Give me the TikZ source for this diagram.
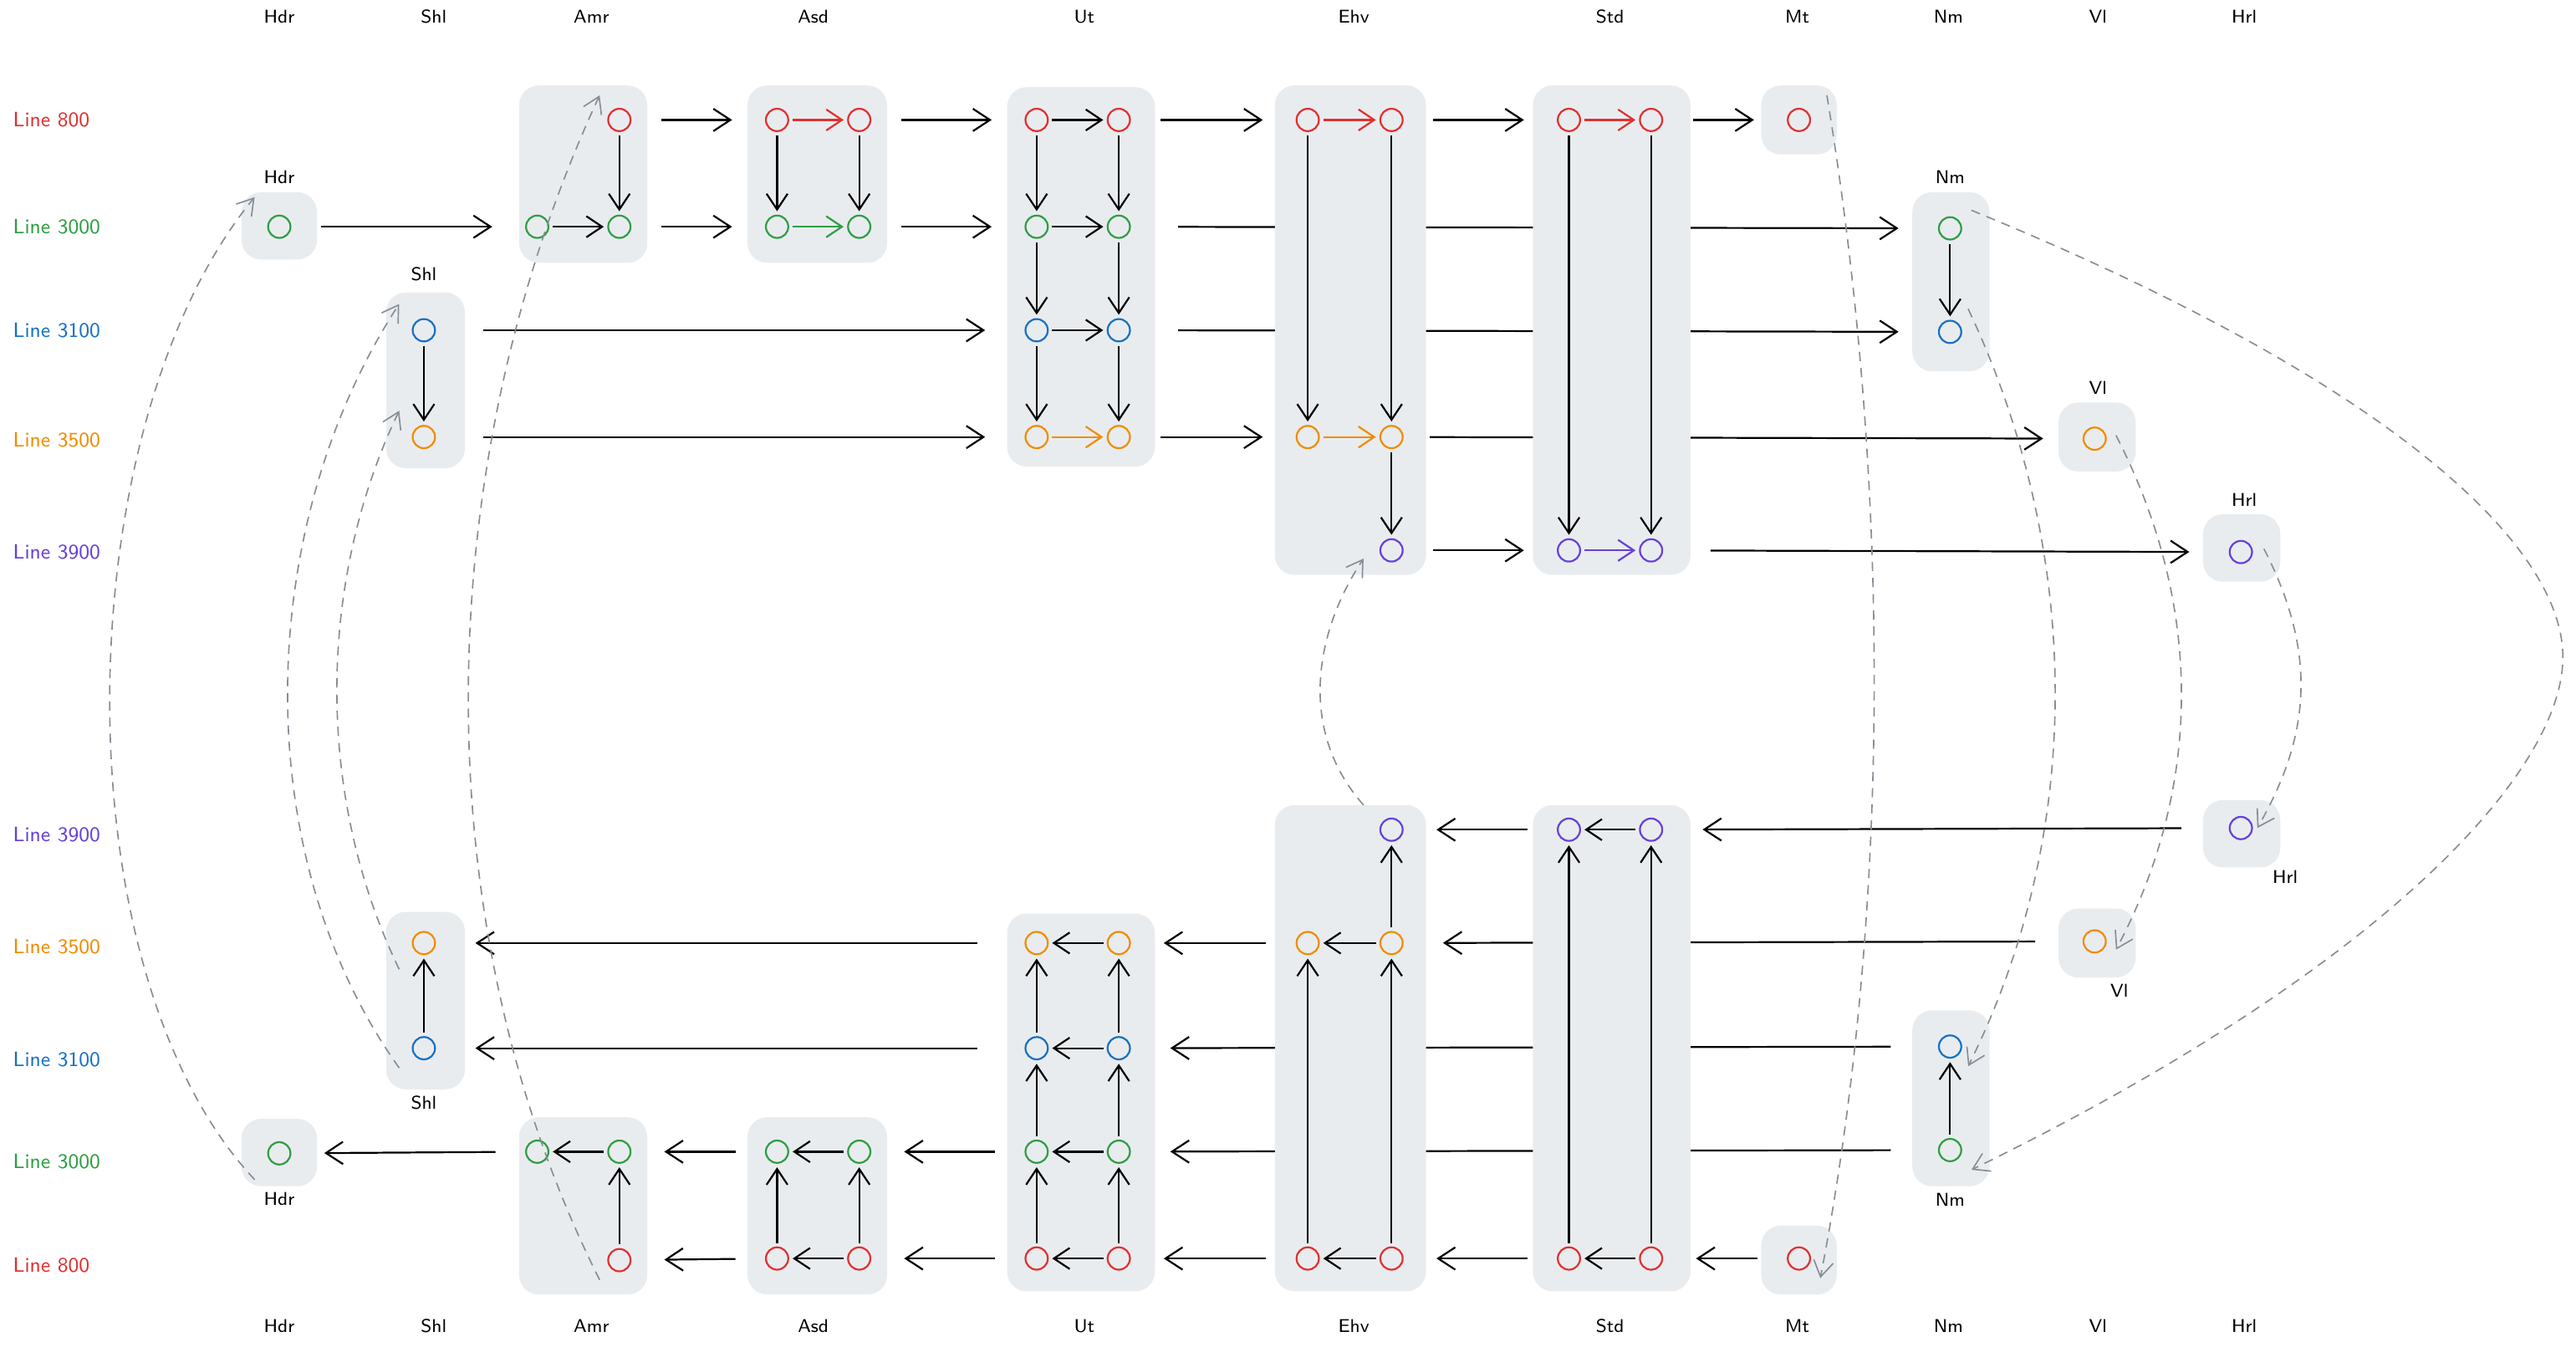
\documentclass[tikz,border=0pt]{standalone}
\usetikzlibrary{arrows.meta}
\definecolor{cred}{HTML}{E03131}
\definecolor{cgreen}{HTML}{2F9E44}
\definecolor{cblue}{HTML}{1971C2}
\definecolor{corange}{HTML}{F08C00}
\definecolor{cpurple}{HTML}{6741D9}
\definecolor{boxgray}{HTML}{E9ECEF}
\definecolor{dashgray}{HTML}{868E96}
\pgfdeclarelayer{background}
\pgfsetlayers{background,main}

\tikzset{
  pt/.style={circle, draw=#1, thick, minimum size=0.34cm, inner sep=0pt},
  grp/.style={fill=boxgray, rounded corners=0.3cm},
  inner/.style={-{Straight Barb[length=2.4mm,width=3.2mm]}, thick, shorten <=1.5pt, shorten >=1.5pt},
  link/.style={-{Straight Barb[length=2.6mm,width=3.4mm]}, thick, shorten <=0.45cm, shorten >=0.5cm},
  long/.style={-{Straight Barb[length=2.6mm,width=3.4mm]}, thick, shorten <=0.72cm, shorten >=0.6cm},
  jump/.style={-{Straight Barb[length=2.4mm,width=3mm]}, dashgray, semithick, dash pattern=on 4pt off 3pt},
  col/.style={font=\sffamily\footnotesize},
  row/.style={font=\sffamily\small, anchor=west}
}

\begin{document}
\begin{tikzpicture}[x=0.025cm, y=-0.025cm]
\useasboundingbox (0,0) rectangle (1568,819.4);

% column headers
\foreach \x/\t in {170/Hdr, 264/Shl, 360/Amr, 495/Asd, 660/Ut, 824/Ehv, 980/Std, 1094/Mt, 1186/Nm, 1277/Vl, 1366/Hrl} {
  \node[col] (head-t-\t) at (\x,10) {\t};
  \node[col] (head-b-\t) at (\x,807) {\t};
}

% line labels
\foreach \y/\n/\c [count=\i] in {73/800/cred, 138/3000/cgreen, 201/3100/cblue, 268/3500/corange, 336/3900/cpurple,
                      508/3900/cpurple, 576/3500/corange, 645/3100/cblue, 707/3000/cgreen, 770/800/cred} {
  \node[row, text=\c] (line-\i) at (3,\y) {Line \n};
}

% ---- upper half
\node[pt=cgreen] (hdr-t-3000) at (170,138) {};
\node[pt=cblue] (shl-t-3100) at (258,201) {};
\node[pt=corange] (shl-t-3500) at (258,266) {};
\node[pt=cred] (amr-t-800) at (377,73) {};
\node[pt=cgreen] (amr-t-3000-l) at (327,138) {};
\node[pt=cgreen] (amr-t-3000-r) at (377,138) {};
\node[pt=cred] (asd-t-800-l) at (473,73) {};
\node[pt=cred] (asd-t-800-r) at (523,73) {};
\node[pt=cgreen] (asd-t-3000-l) at (473,138) {};
\node[pt=cgreen] (asd-t-3000-r) at (523,138) {};
\foreach \y/\n/\c in {73/800/cred, 138/3000/cgreen, 201/3100/cblue, 266/3500/corange} {
  \node[pt=\c] (ut-t-\n-l) at (631,\y) {};
  \node[pt=\c] (ut-t-\n-r) at (681,\y) {};
}
\node[pt=cred] (ehv-t-800-l) at (796,73) {};
\node[pt=cred] (ehv-t-800-r) at (847,73) {};
\node[pt=corange] (ehv-t-3500-l) at (796,266) {};
\node[pt=corange] (ehv-t-3500-r) at (847,266) {};
\node[pt=cpurple] (ehv-t-3900) at (847,335) {};
\node[pt=cred] (std-t-800-l) at (955,73) {};
\node[pt=cred] (std-t-800-r) at (1005,73) {};
\node[pt=cpurple] (std-t-3900-l) at (955,335) {};
\node[pt=cpurple] (std-t-3900-r) at (1005,335) {};
\node[pt=cred] (mt-t-800) at (1095,73) {};
\node[pt=cgreen] (nm-t-3000) at (1187,139) {};
\node[pt=cblue] (nm-t-3100) at (1187,202) {};
\node[pt=corange] (vl-t-3500) at (1275,267) {};
\node[pt=cpurple] (hrl-t-3900) at (1364,336) {};

\node[col] (hdr-t-label) at (170,108) {Hdr};
\node[col] (shl-t-label) at (258,167) {Shl};
\node[col] (nm-t-label) at (1187,108) {Nm};
\node[col] (vl-t-label) at (1277,236) {Vl};
\node[col] (hrl-t-label) at (1366,304) {Hrl};

% ---- lower half
\node[pt=cgreen] (hdr-b-3000) at (170,702) {};
\node[pt=corange] (shl-b-3500) at (258,574) {};
\node[pt=cblue] (shl-b-3100) at (258,638) {};
\node[pt=cgreen] (amr-b-3000-l) at (327,701) {};
\node[pt=cgreen] (amr-b-3000-r) at (377,701) {};
\node[pt=cred] (amr-b-800) at (377,767) {};
\node[pt=cgreen] (asd-b-3000-l) at (473,701) {};
\node[pt=cgreen] (asd-b-3000-r) at (523,701) {};
\node[pt=cred] (asd-b-800-l) at (473,766) {};
\node[pt=cred] (asd-b-800-r) at (523,766) {};
\foreach \y/\n/\c in {574/3500/corange, 638/3100/cblue, 701/3000/cgreen, 766/800/cred} {
  \node[pt=\c] (ut-b-\n-l) at (631,\y) {};
  \node[pt=\c] (ut-b-\n-r) at (681,\y) {};
}
\node[pt=cpurple] (ehv-b-3900) at (847,505) {};
\node[pt=corange] (ehv-b-3500-l) at (796,574) {};
\node[pt=corange] (ehv-b-3500-r) at (847,574) {};
\node[pt=cred] (ehv-b-800-l) at (796,766) {};
\node[pt=cred] (ehv-b-800-r) at (847,766) {};
\node[pt=cpurple] (std-b-3900-l) at (955,505) {};
\node[pt=cpurple] (std-b-3900-r) at (1005,505) {};
\node[pt=cred] (std-b-800-l) at (955,766) {};
\node[pt=cred] (std-b-800-r) at (1005,766) {};
\node[pt=cred] (mt-b-800) at (1095,766) {};
\node[pt=cblue] (nm-b-3100) at (1187,637) {};
\node[pt=cgreen] (nm-b-3000) at (1187,700) {};
\node[pt=corange] (vl-b-3500) at (1275,573) {};
\node[pt=cpurple] (hrl-b-3900) at (1364,504) {};

\node[col] (hdr-b-label) at (170,730) {Hdr};
\node[col] (shl-b-label) at (258,671) {Shl};
\node[col] (nm-b-label) at (1187,730) {Nm};
\node[col] (vl-b-label) at (1290,603) {Vl};
\node[col] (hrl-b-label) at (1391,534) {Hrl};

\begin{pgfonlayer}{background}
  % lines that pass behind the groups
  \draw[long] (ut-t-3000-r) -- (nm-t-3000);
  \draw[long] (shl-t-3100) -- (ut-t-3100-l);
  \draw[long] (ut-t-3100-r) -- (nm-t-3100);
  \draw[long] (shl-t-3500) -- (ut-t-3500-l);
  \draw[long, shorten <=0.4cm] (ehv-t-3500-r) -- (vl-t-3500);
  \draw[long] (std-t-3900-r) -- (hrl-t-3900);
  \draw[long] (nm-b-3000) -- (ut-b-3000-r);
  \draw[long] (nm-b-3100) -- (ut-b-3100-r);
  \draw[long] (ut-b-3100-l) -- (shl-b-3100);
  \draw[long] (vl-b-3500) -- (ehv-b-3500-r);
  \draw[long] (ut-b-3500-l) -- (shl-b-3500);
  \draw[long] (hrl-b-3900) -- (std-b-3900-r);

  % groups
  \foreach \xa/\ya/\xb/\yb in {147/117/193/158, 235/178/283/285, 316/52/394/160, 455/52/540/160,
      613/53/703/284, 776/52/868/350, 933/52/1029/350, 1072/52/1118/94, 1164/117/1211/226,
      1253/245/1300/287, 1341/313/1388/354,
      147/681/193/722, 235/555/283/663, 316/680/394/788, 455/680/540/788, 613/556/703/786,
      776/490/868/786, 933/490/1029/786, 1072/746/1118/788, 1164/615/1211/722,
      1253/553/1300/595, 1341/487/1388/528}
    \fill[grp] (\xa,\ya) rectangle (\xb,\yb);
\end{pgfonlayer}

% upper links
\draw[link] (amr-t-800) -- (asd-t-800-l);
\draw[link] (asd-t-800-r) -- (ut-t-800-l);
\draw[link] (ut-t-800-r) -- (ehv-t-800-l);
\draw[link] (ehv-t-800-r) -- (std-t-800-l);
\draw[link] (std-t-800-r) -- (mt-t-800);
\draw[link] (hdr-t-3000) -- (amr-t-3000-l);
\draw[link] (amr-t-3000-r) -- (asd-t-3000-l);
\draw[link] (asd-t-3000-r) -- (ut-t-3000-l);
\draw[link] (ut-t-3500-r) -- (ehv-t-3500-l);
\draw[link] (ehv-t-3900) -- (std-t-3900-l);

% upper inner arrows
\draw[inner] (shl-t-3100) -- (shl-t-3500);
\draw[inner] (amr-t-800) -- (amr-t-3000-r);
\draw[inner] (amr-t-3000-l) -- (amr-t-3000-r);
\draw[inner, cred] (asd-t-800-l) -- (asd-t-800-r);
\draw[inner] (asd-t-800-l) -- (asd-t-3000-l);
\draw[inner] (asd-t-800-r) -- (asd-t-3000-r);
\draw[inner, cgreen] (asd-t-3000-l) -- (asd-t-3000-r);
\foreach \n in {800, 3000, 3100} \draw[inner] (ut-t-\n-l) -- (ut-t-\n-r);
\draw[inner, corange] (ut-t-3500-l) -- (ut-t-3500-r);
\foreach \a/\b in {800/3000, 3000/3100, 3100/3500} {
  \draw[inner] (ut-t-\a-l) -- (ut-t-\b-l);
  \draw[inner] (ut-t-\a-r) -- (ut-t-\b-r);
}
\draw[inner, cred] (ehv-t-800-l) -- (ehv-t-800-r);
\draw[inner] (ehv-t-800-l) -- (ehv-t-3500-l);
\draw[inner] (ehv-t-800-r) -- (ehv-t-3500-r);
\draw[inner, corange] (ehv-t-3500-l) -- (ehv-t-3500-r);
\draw[inner] (ehv-t-3500-r) -- (ehv-t-3900);
\draw[inner, cred] (std-t-800-l) -- (std-t-800-r);
\draw[inner] (std-t-800-l) -- (std-t-3900-l);
\draw[inner] (std-t-800-r) -- (std-t-3900-r);
\draw[inner, cpurple] (std-t-3900-l) -- (std-t-3900-r);
\draw[inner] (nm-t-3000) -- (nm-t-3100);

% lower links
\draw[link] (mt-b-800) -- (std-b-800-r);
\draw[link] (std-b-800-l) -- (ehv-b-800-r);
\draw[link] (ehv-b-800-l) -- (ut-b-800-r);
\draw[link] (ut-b-800-l) -- (asd-b-800-r);
\draw[link] (asd-b-800-l) -- (amr-b-800);
\draw[link] (ut-b-3000-l) -- (asd-b-3000-r);
\draw[link] (asd-b-3000-l) -- (amr-b-3000-r);
\draw[link] (amr-b-3000-l) -- (hdr-b-3000);
\draw[link] (ehv-b-3500-l) -- (ut-b-3500-r);
\draw[link] (std-b-3900-l) -- (ehv-b-3900);

% lower inner arrows
\draw[inner] (shl-b-3100) -- (shl-b-3500);
\draw[inner] (amr-b-800) -- (amr-b-3000-r);
\draw[inner] (amr-b-3000-r) -- (amr-b-3000-l);
\draw[inner] (asd-b-800-r) -- (asd-b-800-l);
\draw[inner] (asd-b-800-l) -- (asd-b-3000-l);
\draw[inner] (asd-b-800-r) -- (asd-b-3000-r);
\draw[inner] (asd-b-3000-r) -- (asd-b-3000-l);
\foreach \n in {800, 3000, 3100, 3500} \draw[inner] (ut-b-\n-r) -- (ut-b-\n-l);
\foreach \a/\b in {800/3000, 3000/3100, 3100/3500} {
  \draw[inner] (ut-b-\a-l) -- (ut-b-\b-l);
  \draw[inner] (ut-b-\a-r) -- (ut-b-\b-r);
}
\draw[inner] (ehv-b-800-r) -- (ehv-b-800-l);
\draw[inner] (ehv-b-800-l) -- (ehv-b-3500-l);
\draw[inner] (ehv-b-800-r) -- (ehv-b-3500-r);
\draw[inner] (ehv-b-3500-r) -- (ehv-b-3500-l);
\draw[inner] (ehv-b-3500-r) -- (ehv-b-3900);
\draw[inner] (std-b-800-r) -- (std-b-800-l);
\draw[inner] (std-b-800-l) -- (std-b-3900-l);
\draw[inner] (std-b-800-r) -- (std-b-3900-r);
\draw[inner] (std-b-3900-r) -- (std-b-3900-l);
\draw[inner] (nm-b-3000) -- (nm-b-3100);

% dashed jumps between the halves
\draw[jump] ([shift={(-15,16)}]hdr-b-3000.center) .. controls (35,590) and (40,260) .. ([shift={(-15,-18)}]hdr-t-3000.center);
\draw[jump] ([shift={(-15,12)}]shl-b-3100.center) .. controls (150,520) and (155,320) .. ([shift={(-15,-16)}]shl-t-3100.center);
\draw[jump] ([shift={(-15,16)}]shl-b-3500.center) .. controls (190,480) and (195,350) .. ([shift={(-15,-16)}]shl-t-3500.center);
\draw[jump] ([shift={(-12,12)}]amr-b-800.center) .. controls (255,560) and (262,280) .. ([shift={(-12,-15)}]amr-t-800.center);
\draw[jump] ([shift={(-17,-15)}]ehv-b-3900.center) .. controls (790,445) and (800,385) .. ([shift={(-17,5)}]ehv-t-3900.center);
\draw[jump] ([shift={(17,-15)}]mt-t-800.center) .. controls (1152,300) and (1150,560) .. ([shift={(13,12)}]mt-b-800.center);
\draw[jump] ([shift={(13,-11)}]nm-t-3000.center) .. controls (1450,230) and (1560,330) .. (1560,400)
                                                 .. controls (1560,470) and (1450,590) .. ([shift={(13,12)}]nm-b-3000.center);
\draw[jump] ([shift={(11,-14)}]nm-t-3100.center) .. controls (1265,330) and (1272,500) .. ([shift={(11,12)}]nm-b-3100.center);
\draw[jump] ([shift={(13,-2)}]vl-t-3500.center) .. controls (1342,370) and (1340,480) .. ([shift={(13,5)}]vl-b-3500.center);
\draw[jump] ([shift={(14,-2)}]hrl-t-3900.center) .. controls (1412,400) and (1405,450) .. ([shift={(10,0)}]hrl-b-3900.center);
\end{tikzpicture}
\end{document}
